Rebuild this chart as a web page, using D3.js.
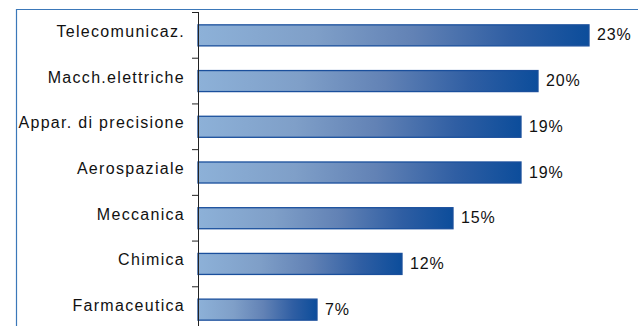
<!DOCTYPE html>
<html>
<head>
<meta charset="utf-8">
<script src="https://cdn.jsdelivr.net/npm/d3@7"></script>
<style>
  html, body { margin: 0; padding: 0; background: #fff; }
  svg { display: block; }
  text { font-family: "Liberation Sans", Arial, sans-serif; fill: #111; }
</style>
</head>
<body>
<svg id="chart" width="638" height="326"></svg>
<script>
// Sectors and their shares (%)
const categories = ["Telecomunicaz.", "Macch.elettriche", "Appar. di precisione", "Aerospaziale", "Meccanica", "Chimica", "Farmaceutica"];
const values = [23, 20, 19, 19, 15, 12, 7];
const valueLabels = ["23%", "20%", "19%", "19%", "15%", "12%", "7%"];

const W = 638, H = 326;
const axisX = 198;
const svg = d3.select("#chart");

// Gradient applied per bar: light steel blue on the left to deep blue on the right
const defs = svg.append("defs");
const grad = defs.append("linearGradient")
  .attr("id", "barGrad")
  .attr("x1", "0%").attr("x2", "100%").attr("y1", "0%").attr("y2", "0%");
[[0, "#8db1d8"], [0.3, "#7f9fc8"], [0.55, "#6282b5"], [0.8, "#2f5ea3"], [1, "#0c4d9b"]]
  .forEach(([o, c]) => grad.append("stop").attr("offset", o).attr("stop-color", c));

// Outer frame (top and left edges)
svg.append("path")
  .attr("d", `M16.5,${H} L16.5,9.5 L${W},9.5`)
  .attr("fill", "none")
  .attr("stroke", "#3b78b9")
  .attr("stroke-width", 1.2);

const x = d3.scaleLinear().domain([0, 25]).range([axisX, axisX + 25 * 17]);
const y = d3.scaleBand().domain(categories).range([12, 332])
  .paddingInner(0.54).paddingOuter(0.27);

// Bars
svg.append("g").selectAll("rect")
  .data(values)
  .join("rect")
  .attr("x", x(0))
  .attr("y", (d, i) => y(categories[i]) + 0.5)
  .attr("width", d => x(d) - x(0))
  .attr("height", y.bandwidth())
  .attr("fill", "url(#barGrad)")
  .attr("stroke", "#1a4f9c")
  .attr("stroke-width", 1.3);

// Category axis: vertical line with ticks at band boundaries
const axisG = svg.append("g");
axisG.append("line")
  .attr("x1", axisX + 0.5).attr("x2", axisX + 0.5)
  .attr("y1", y.range()[0]).attr("y2", H)
  .attr("stroke", "#222").attr("stroke-width", 1);
axisG.selectAll("line.tick")
  .data(d3.range(categories.length + 1))
  .join("line")
  .attr("class", "tick")
  .attr("x1", axisX - 6).attr("x2", axisX)
  .attr("y1", i => y.range()[0] + i * y.step() + 0.5)
  .attr("y2", i => y.range()[0] + i * y.step() + 0.5)
  .attr("stroke", "#222").attr("stroke-width", 1);

// Category labels
svg.append("g").selectAll("text")
  .data(categories)
  .join("text")
  .attr("x", 185)
  .attr("y", d => y(d) + y.bandwidth() / 2 + 2)
  .attr("text-anchor", "end")
  .style("font-size", "16px")
  .style("letter-spacing", "1.3px")
  .text(d => d);

// Value labels at the end of each bar
svg.append("g").selectAll("text")
  .data(values)
  .join("text")
  .attr("x", d => x(d) + 8)
  .attr("y", (d, i) => y(categories[i]) + y.bandwidth() / 2 + 5.5)
  .style("font-size", "16px")
  .style("letter-spacing", "0.8px")
  .text((d, i) => valueLabels[i]);
</script>
</body>
</html>
